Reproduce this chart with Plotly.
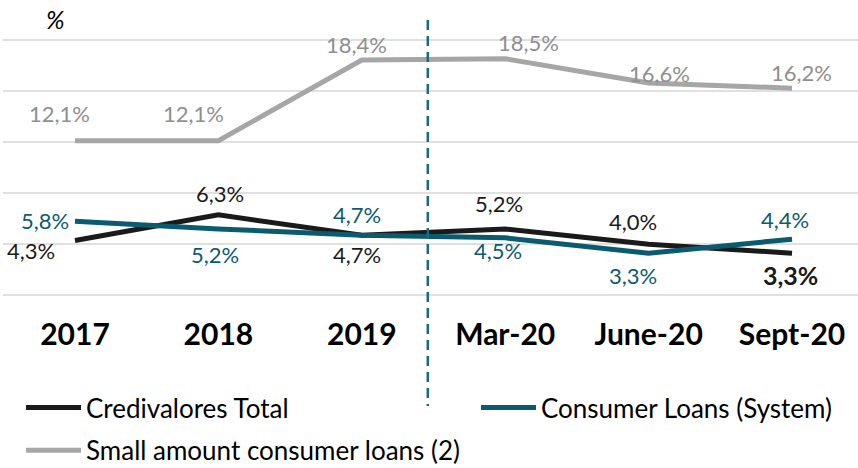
import plotly.graph_objects as go

# ---- data ----
categories = ["2017", "2018", "2019", "Mar-20", "June-20", "Sept-20"]
credivalores_total = [4.3, 6.3, 4.7, 5.2, 4.0, 3.3]
consumer_loans_system = [5.8, 5.2, 4.7, 4.5, 3.3, 4.4]
small_amount_loans = [12.1, 12.1, 18.4, 18.5, 16.6, 16.2]
series_names = ["Credivalores Total", "Consumer Loans (System)", "Small amount consumer loans (2)"]

# ---- styles ----
FONT = "Lato, 'Open Sans', sans-serif"
C_BLACK = "#1a1a1a"
C_TEAL = "#0b5b70"
C_GREY = "#a6a6a6"
C_GREY_TXT = "#8f8f8f"

W, H = 858, 468
PL, PR, PT, PB = 3, 858, 37, 298  # plot area edges in px


def px_x(p):
    return (p - PL) / (PR - PL)


def px_y(p):
    return (PB - p) / (PB - PT)


# label offsets in px (dx right, dy up) per point
off_cred = [(-44, -10), (2, 21), (-5, -19), (-6, 25), (-16, 23), (-2, -22)]
off_cons = [(-30, 1), (-3, -26), (-5, 21), (-7, -13), (-16, -22), (-7, 20)]
off_small = [(-15, 27), (-25, 27), (-5, 16), (23, 16), (11, 10), (9, 16)]

x_idx = list(range(len(categories)))
X_MIN, X_MAX = -0.502, 5.46
SEP_X = 2.46  # separator between annual and monthly data


def fmt(v):
    return f"{v:.1f}".replace(".", ",") + "%"


fig = go.Figure()
specs = [
    (credivalores_total, series_names[0], C_BLACK, "legend", "g1"),
    (consumer_loans_system, series_names[1], C_TEAL, "legend2", "g2"),
    (small_amount_loans, series_names[2], C_GREY, "legend", "g3"),
]
for vals, name, col, leg, grp in specs:
    fig.add_trace(go.Scatter(
        x=x_idx, y=vals, mode="lines", name=name,
        line=dict(color=col, width=5),
        legend=leg, legendgroup=grp, hoverinfo="skip",
    ))

annotations = []
label_sets = [
    (credivalores_total, off_cred, C_BLACK),
    (consumer_loans_system, off_cons, C_TEAL),
    (small_amount_loans, off_small, C_GREY_TXT),
]
for vals, offs, col in label_sets:
    for i, v in enumerate(vals):
        bold = (vals is credivalores_total and i == len(vals) - 1)
        annotations.append(dict(
            x=i, y=v, xref="x", yref="y", text=fmt(v), showarrow=False,
            xanchor="center", yanchor="middle",
            xshift=offs[i][0], yshift=offs[i][1],
            font=dict(family=FONT, size=25 if bold else 22, color=col,
                      weight=700 if bold else 400),
        ))

annotations.append(dict(
    x=px_x(55), y=px_y(19), xref="paper", yref="paper",
    xanchor="center", yanchor="middle",
    text="%", showarrow=False, font=dict(family=FONT, size=25, color="#000", style="italic"),
))

sep_paper = (SEP_X - X_MIN) / (X_MAX - X_MIN)
shapes = [dict(
    type="line", xref="paper", yref="paper",
    x0=sep_paper, x1=sep_paper, y0=px_y(20), y1=px_y(406),
    line=dict(color="#1a6b82", width=2.5, dash="10px,6px"),
)]

fig.update_layout(
    width=W, height=H,
    margin=dict(l=PL, r=W - PR, t=PT, b=H - PB, autoexpand=False),
    paper_bgcolor="white", plot_bgcolor="white",
    font=dict(family=FONT, color="#000"),
    xaxis=dict(
        range=[X_MIN, X_MAX], tickvals=x_idx, ticktext=categories,
        showgrid=False, zeroline=False, showline=False, ticks="",
        tickfont=dict(family=FONT, size=30, color="#000", weight=700),
        ticklabelstandoff=16, automargin=False,
    ),
    yaxis=dict(
        range=[-0.2, 20.2], tickvals=[0, 4, 8, 12, 16, 20],
        showticklabels=False, showgrid=True, gridcolor="#e0e0e0", gridwidth=1.5,
        zeroline=False, showline=False, ticks="", automargin=False,
    ),
    showlegend=True,
    legend=dict(
        x=px_x(21), y=px_y(384), xanchor="left", yanchor="top",
        orientation="v", font=dict(family=FONT, size=26, color="#000"),
        itemwidth=55, tracegroupgap=6, bgcolor="rgba(0,0,0,0)",
    ),
    legend2=dict(
        x=px_x(476), y=px_y(384), xanchor="left", yanchor="top",
        orientation="v", font=dict(family=FONT, size=26, color="#000"),
        itemwidth=55, bgcolor="rgba(0,0,0,0)",
    ),
    annotations=annotations,
    shapes=shapes,
)

fig.write_html("out.html", config={"displayModeBar": False},
               post_script="document.body.style.margin='0px';")
